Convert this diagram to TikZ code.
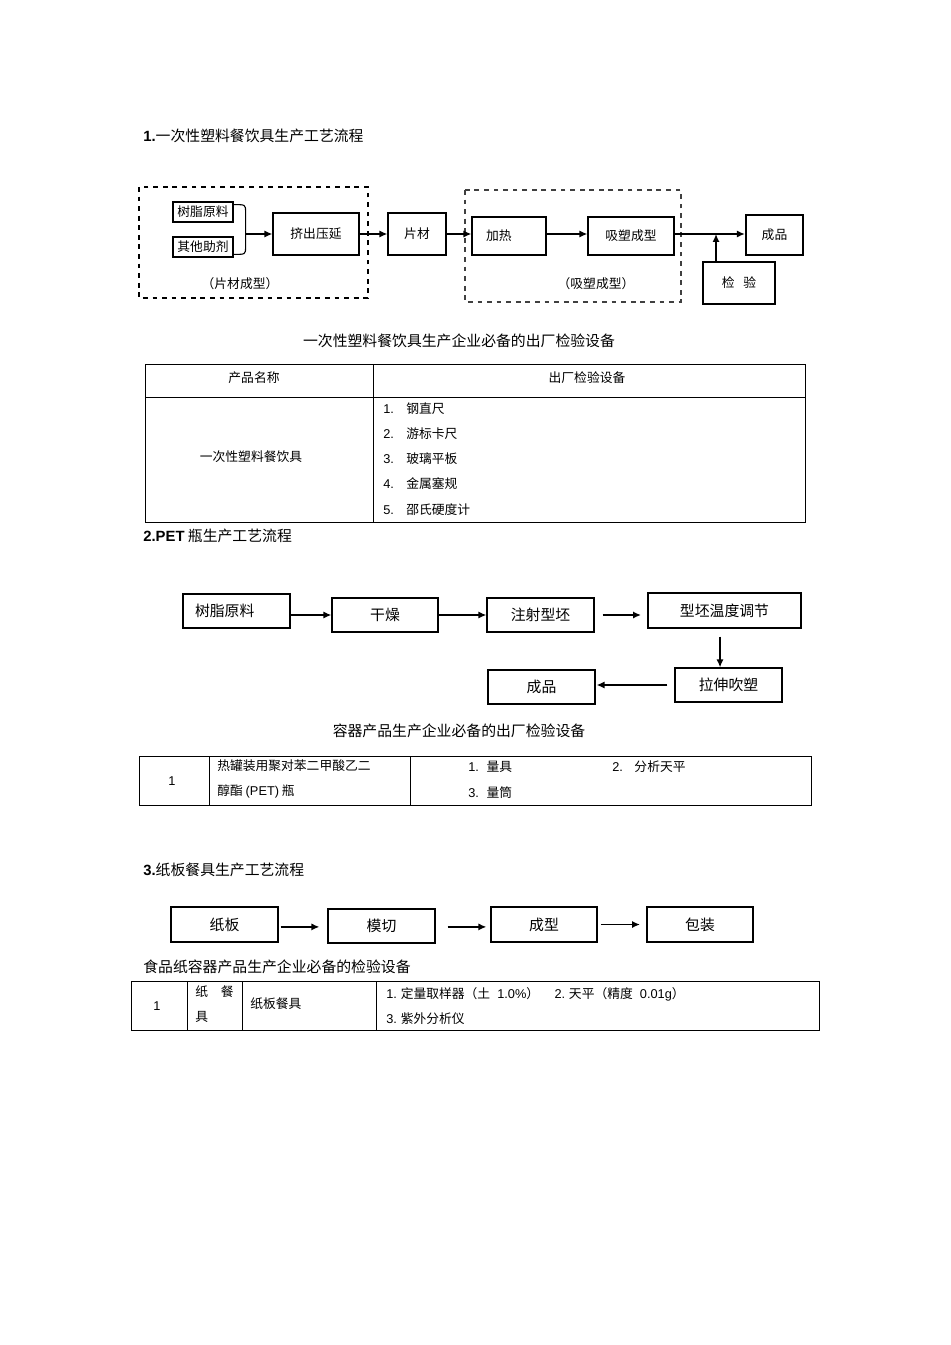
\documentclass[tikz,border=0pt]{standalone}
\usepackage{fontspec}
\setmainfont{Noto Sans CJK SC}
\newfontfamily\lat{Liberation Sans}
\usetikzlibrary{arrows}
\usetikzlibrary{arrows.meta}
\usetikzlibrary{positioning}
\newcommand{\px}{0.6263pt}

\tikzset{
    box/.style={draw, line width=0.75pt, inner sep=0pt},
    arr/.style={-{Latex[length=5pt, width=4.5pt]}, line width=1pt},
    dashbox/.style={draw, dashed, line width=0.8pt},
    grid/.style={line width=0.6pt},
    txt/.style={inner sep=0pt},
    big/.style={font=\fontsize{9.3pt}{11pt}\selectfont},
    small/.style={font=\fontsize{8pt}{10pt}\selectfont},
}

\begin{document}
\begin{tikzpicture}[x=\px, y=-\px]
    \useasboundingbox (0,0) rectangle (950,1345);

    \node[txt, big, anchor=west] (tone) at (143,136) {{\lat\bfseries 1.}一次性塑料餐饮具生产工艺流程};

    \draw[dashbox] (139,187) rectangle (368,298);
    \draw[dashbox, black!75] (465,190) rectangle (681,302);

    \node[box, small, minimum width=60*\px, minimum height=20*\px] (szyl) at (203,212) {树脂原料};
    \node[box, small, minimum width=60*\px, minimum height=20*\px] (qtzj) at (203,247) {其他助剂};
    \node[box, small, minimum width=86*\px, minimum height=42*\px] (jcyy) at (316,234) {挤出压延};
    \node[box, small, minimum width=58*\px, minimum height=42*\px] (pc) at (417,234) {片材};
    \node[box, small, text width=46*\px, inner xsep=14*\px, minimum height=38*\px, align=left] (jr) at (509,236) {加热};
    \node[box, small, minimum width=86*\px, minimum height=38*\px] (xscx) at (631,236) {吸塑成型};
    \node[box, small, line width=1.4pt, minimum width=57*\px, minimum height=40*\px] (cpa) at (774.5,235) {成品};
    \node[box, small, minimum width=72*\px, minimum height=42*\px] (jy) at (739,283) {检\hspace{0.7em}验};
    \coordinate (hb) at (245,234);
    \coordinate (jo) at (716,234);

    \draw[line width=0.7pt] ([yshift=-2pt]szyl.north east) .. controls ([xshift=7.5pt, yshift=-2pt]szyl.north east) .. ([xshift=7.5pt]szyl.east) -- ([xshift=7.5pt]qtzj.east) .. controls ([xshift=7.5pt, yshift=2pt]qtzj.south east) .. ([yshift=2pt]qtzj.south east);
    \draw[arr] (hb) -- (hb -| jcyy.west);
    \draw[arr] (jcyy.east |- hb) -- (hb -| pc.west);
    \draw[arr] (pc.east |- hb) -- (hb -| jr.west);
    \draw[arr] (jr.east |- hb) -- (hb -| xscx.west);
    \draw[arr] (xscx.east |- hb) -- (hb -| cpa.west);
    \draw[arr] (jo |- jy.north) -- (jo);

    \node[txt, small] (lba) at (240,284) {（片材成型）};
    \node[txt, small] (lbb) at (596,284) {（吸塑成型）};

    \node[txt, big] (ttone) at (459,341) {一次性塑料餐饮具生产企业必备的出厂检验设备};

    \draw[grid] (145,364) rectangle (805,522);
    \draw[grid] (145,397) -- (805,397);
    \draw[grid] (373,364) -- (373,522);
    \node[txt, small] (hname) at (254,378) {产品名称};
    \node[txt, small] (hequip) at (587,378) {出厂检验设备};
    \node[txt, small] (pname) at (251,457) {一次性塑料餐饮具};
    \foreach \n/\t/\y in {1/钢直尺/409, 2/游标卡尺/434, 3/玻璃平板/459, 4/金属塞规/484, 5/邵氏硬度计/510} {
        \node[txt, small, anchor=west] (en\n) at (383,\y) {\lat\n.};
        \node[txt, small, anchor=west] (et\n) at (406,\y) {\t};
    }

    \node[txt, big, anchor=west] (ttwo) at (143,536) {{\lat\bfseries 2.PET}\ 瓶生产工艺流程};

    \node[box, big, text width=83*\px, inner xsep=12*\px, minimum height=34*\px, align=left] (szylb) at (236.5,611) {树脂原料};
    \node[box, big, minimum width=106*\px, minimum height=34*\px] (gz) at (385,615) {干燥};
    \node[box, big, minimum width=107*\px, minimum height=34*\px] (zs) at (540.5,615) {注射型坯};
    \node[box, big, minimum width=153*\px, minimum height=35*\px] (wd) at (724.5,610.5) {型坯温度调节};
    \node[box, big, minimum width=107*\px, minimum height=34*\px] (lc) at (728.5,685) {拉伸吹塑};
    \node[box, big, minimum width=107*\px, minimum height=34*\px] (cpb) at (541.5,687) {成品};

    \draw[arr] (szylb.east |- gz) -- (gz.west);
    \draw[arr] (gz.east) -- (zs.west);
    \draw[arr] ([xshift=5pt]zs.east) -- ([xshift=-4pt]zs.east -| wd.west);
    \draw[arr] ([xshift=-2.8pt, yshift=-5pt]wd.south) -- ([xshift=-2.8pt]wd.south |- lc.north);
    \draw[arr] ([xshift=-4.4pt]lc.west) -- ([xshift=0.6pt]lc.west -| cpb.east);

    \node[txt, big] (tttwo) at (459,731) {容器产品生产企业必备的出厂检验设备};

    \draw[grid] (139,756) rectangle (811,805);
    \draw[grid] (209,756) -- (209,805);
    \draw[grid] (410,756) -- (410,805);
    \node[txt, small] (nb) at (172,781) {\lat 1};
    \node[txt, small, anchor=west] (pba) at (217,766) {热罐装用聚对苯二甲酸乙二};
    \node[txt, small, anchor=west] (pbb) at (217,791) {醇酯 {\lat(PET)} 瓶};
    \node[txt, small, anchor=west] (qa) at (468,767) {{\lat 1.}\hspace{0.6em}量具};
    \node[txt, small, anchor=west] (qb) at (612,767) {{\lat 2.}\hspace{0.9em}分析天平};
    \node[txt, small, anchor=west] (qc) at (468,793) {{\lat 3.}\hspace{0.6em}量筒};

    \node[txt, big, anchor=west] (tthree) at (143,870) {{\lat\bfseries 3.}纸板餐具生产工艺流程};

    \node[box, big, minimum width=107*\px, minimum height=35*\px] (zb) at (224.5,924.5) {纸板};
    \node[box, big, minimum width=107*\px, minimum height=34*\px] (mq) at (381.5,926) {模切};
    \node[box, big, minimum width=106*\px, minimum height=35*\px] (cx) at (544,924.5) {成型};
    \node[box, big, minimum width=106*\px, minimum height=35*\px] (bz) at (700,924.5) {包装};

    \draw[arr] ([xshift=1.3pt, yshift=-1.5pt]zb.east) -- ([xshift=-5pt, yshift=-1.5pt]zb.east -| mq.west);
    \draw[arr] ([xshift=7.5pt, yshift=-1.5pt]zb.east -| mq.east) -- ([xshift=-2.5pt, yshift=-1.5pt]cx.west);
    \draw[arr] ([xshift=2pt]cx.east) -- ([xshift=-4pt]bz.west);

    \node[txt, big, anchor=west] (ttthree) at (143,967) {食品纸容器产品生产企业必备的检验设备};

    \draw[grid] (131,981) rectangle (819,1030);
    \draw[grid] (187,981) -- (187,1030);
    \draw[grid] (242,981) -- (242,1030);
    \draw[grid] (376,981) -- (376,1030);
    \node[txt, small] (nc) at (157,1006) {\lat 1};
    \node[txt, small, anchor=west] (pca) at (195,992) {纸\hspace{1em}餐};
    \node[txt, small, anchor=west] (pcb) at (195,1017) {具};
    \node[txt, small, anchor=west] (pcc) at (250,1004) {纸板餐具};
    \node[txt, small, anchor=west] (ra) at (386,994) {{\lat 1.} 定量取样器（土{\lat\ \ 1.0\%}）\hspace{1.2em}{\lat 2.} 天平（精度{\lat\ \ 0.01g}）};
    \node[txt, small, anchor=west] (rb) at (386,1019) {{\lat 3.} 紫外分析仪};
\end{tikzpicture}
\end{document}
